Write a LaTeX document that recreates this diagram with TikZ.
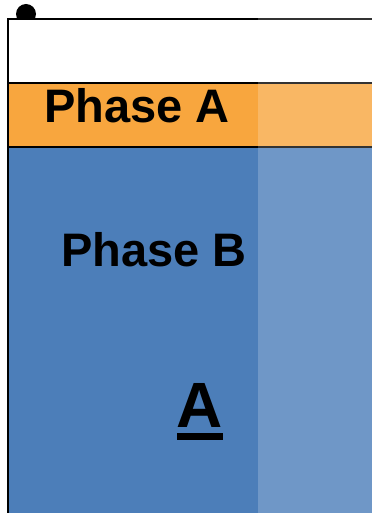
\documentclass[tikz,border=0pt]{standalone}
\usepackage{fontspec}
\setmainfont{Liberation Sans}
\definecolor{phaseorange}{RGB}{248,166,62}
\definecolor{phaseblue}{RGB}{76,126,185}
\begin{document}
\begin{tikzpicture}[x=1bp,y=1bp,
  lbl/.style={inner sep=0pt,anchor=base,font=\fontsize{47bp}{50bp}\selectfont\bfseries},
  border/.style={line width=2.5bp,black}]
\useasboundingbox (0,0) rectangle (371,-513);
\fill[white] (0,0) rectangle (371,-513);
% dot
\fill[black] (26,-14) circle (10);
% bands
\fill[white] (8,-19) rectangle (375,-83);
\fill[phaseorange] (8,-83) rectangle (375,-147);
\fill[phaseblue] (8,-147) rectangle (375,-520);
% borders
\coordinate (tl) at (8,-19);
\coordinate (tr) at (375,-19);
\coordinate (bl) at (8,-520);
\coordinate (ml) at (8,-83);
\coordinate (mr) at (375,-83);
\coordinate (nl) at (8,-147);
\coordinate (nr) at (375,-147);
\draw[border] (tr) -- (tl) -- (bl);
\draw[border] (ml) -- (mr);
\draw[border] (nl) -- (nr);
% labels
\node[lbl] (pa) at (137,-123) {Phase A};
\node[lbl] (pb) at (154,-266) {Phase B};
\node[inner sep=0pt,anchor=base,font=\fontsize{64bp}{68bp}\selectfont\bfseries] (ua) at (200,-427) {A};
\fill[black] (177,-433) rectangle (223,-440);
% light overlay on the right
\fill[white,opacity=0.2] (258,-16) rectangle (375,-520);
\end{tikzpicture}
\end{document}
